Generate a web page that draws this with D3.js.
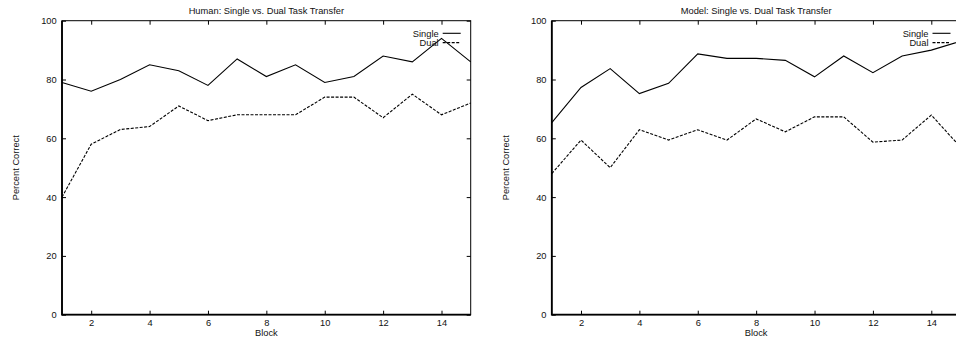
<!DOCTYPE html>
<html>
<head>
<meta charset="utf-8">
<script src="https://cdn.jsdelivr.net/npm/d3@7"></script>
<style>
  body { margin: 0; background: #fff; }
  svg { display: block; font-family: 'Liberation Sans', Arial, sans-serif; }
</style>
</head>
<body>
<div id="chart"></div>
<script>
const blocks = [1, 2, 3, 4, 5, 6, 7, 8, 9, 10, 11, 12, 13, 14, 15];
const humanSingle = [79, 76, 80, 85, 83, 78, 87, 81, 85, 79, 81, 88, 86, 94, 86];
const humanDual = [40, 58, 63, 64, 71, 66, 68, 68, 68, 74, 74, 67, 75, 68, 72];
const modelSingle = [65.3, 77.3, 83.7, 75.2, 78.7, 88.7, 87.2, 87.2, 86.5, 80.9, 88, 82.3, 88, 90, 93];
const modelDual = [48, 59.4, 50, 62.9, 59.4, 62.9, 59.4, 66.6, 62.2, 67.3, 67.3, 58.7, 59.4, 67.9, 57];
const xTicks = [2, 4, 6, 8, 10, 12, 14];
const yTicks = [0, 20, 40, 60, 80, 100];
const seriesNames = ['Single', 'Dual'];
const titles = ['Human: Single vs. Dual Task Transfer', 'Model: Single vs. Dual Task Transfer'];

const width = 956;
const height = 349;
const fontSize = 9.3;

const svg = d3
  .select('#chart')
  .append('svg')
  .attr('width', width)
  .attr('height', height);

const drawPanel = (left, right, title, single, dual) => {
  const top = 20.7;
  const bottom = 314.7;

  const xScale = d3.scaleLinear().domain([1, 15]).range([left, right]);
  const yScale = d3.scaleLinear().domain([0, 100]).range([bottom, top]);

  const g = svg.append('g').style('font-size', `${fontSize}px`);

  // ticks on all four sides, pointing inward
  g.append('g')
    .attr('transform', `translate(0,${bottom})`)
    .call(d3.axisBottom(xScale).tickValues(xTicks).tickSize(-4).tickPadding(4.5));
  g.append('g')
    .attr('transform', `translate(0,${top})`)
    .call(d3.axisTop(xScale).tickValues(xTicks).tickSize(-4).tickFormat(''));
  g.append('g')
    .attr('transform', `translate(${left},0)`)
    .call(d3.axisLeft(yScale).tickValues(yTicks).tickSize(-4).tickPadding(5.3));
  g.append('g')
    .attr('transform', `translate(${right},0)`)
    .call(d3.axisRight(yScale).tickValues(yTicks).tickSize(-4).tickFormat(''));

  g.selectAll('.domain').remove();
  g.selectAll('.tick line').attr('stroke', '#000').attr('stroke-width', 1);
  g.selectAll('.tick text').attr('fill', '#111').style('font-size', `${fontSize}px`);

  // border
  g.append('rect')
    .attr('x', left)
    .attr('y', top)
    .attr('width', right - left)
    .attr('height', bottom - top)
    .attr('fill', 'none')
    .attr('stroke', '#000')
    .attr('stroke-width', 1);
  g.append('path')
    .attr('d', `M${left},${top}V${bottom}H${right}`)
    .attr('fill', 'none')
    .attr('stroke', '#000')
    .attr('stroke-width', 1.8);

  const line = d3
    .line()
    .x((d, i) => xScale(blocks[i]))
    .y((d) => yScale(d));

  g.append('path')
    .datum(single)
    .attr('fill', 'none')
    .attr('stroke', '#000')
    .attr('stroke-width', 1.1)
    .attr('d', line);
  g.append('path')
    .datum(dual)
    .attr('fill', 'none')
    .attr('stroke', '#000')
    .attr('stroke-width', 1.1)
    .attr('stroke-dasharray', '3,1.5')
    .attr('d', line);

  // key
  seriesNames.forEach((name, index) => {
    const ky = 33.3 + index * 9.3;
    g.append('text')
      .attr('text-anchor', 'end')
      .attr('x', right - 32)
      .attr('y', ky)
      .attr('dy', '0.35em')
      .attr('fill', '#111')
      .text(name);
    g.append('line')
      .attr('x1', right - 28)
      .attr('x2', right - 10)
      .attr('y1', ky)
      .attr('y2', ky)
      .attr('stroke', '#000')
      .attr('stroke-width', 1.1)
      .attr('stroke-dasharray', index === 1 ? '3,1.5' : null);
  });

  g.append('text')
    .attr('text-anchor', 'middle')
    .attr('x', (left + right) / 2)
    .attr('y', 10.7)
    .attr('dy', '0.35em')
    .attr('fill', '#111')
    .text(title);

  g.append('text')
    .attr('text-anchor', 'middle')
    .attr('x', (left + right) / 2)
    .attr('y', 336)
    .attr('fill', '#111')
    .text('Block');

  g.append('text')
    .attr('text-anchor', 'middle')
    .attr('transform', `translate(${left - 46},${(top + bottom) / 2}) rotate(-90)`)
    .attr('dy', '0.35em')
    .attr('fill', '#111')
    .text('Percent Correct');
};

drawPanel(62, 470.7, titles[0], humanSingle, humanDual);
drawPanel(551.8, 960.5, titles[1], modelSingle, modelDual);
</script>
</body>
</html>
